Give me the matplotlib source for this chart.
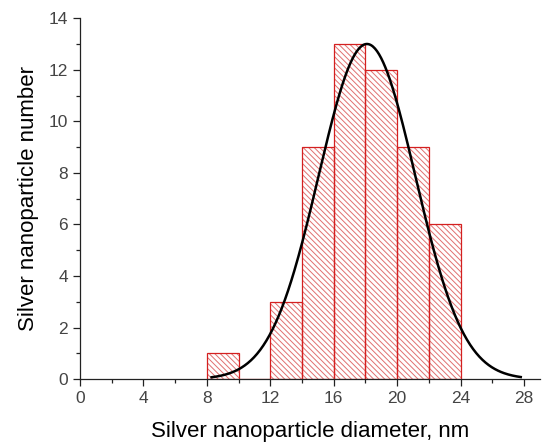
import numpy as np
import matplotlib.pyplot as plt
from matplotlib.ticker import MultipleLocator

plt.rcParams['font.family'] = ['Liberation Sans', 'DejaVu Sans']
plt.rcParams['hatch.linewidth'] = 0.7

# histogram data (bin left edges, counts)
bin_left = [8, 10, 12, 14, 16, 18, 20, 22]
counts = [1, 0, 3, 9, 13, 12, 9, 6]
bin_width = 2

# gaussian fit parameters
fit_center = 18.1
fit_sigma = 3.05
fit_amp = 13.0
fit_range = (8.3, 27.8)

fig = plt.figure(figsize=(5.48, 4.44), dpi=100)
ax = fig.add_axes([0.146, 0.146, 0.839, 0.813])

# hatch in a lighter red, outline drawn separately
ax.bar(bin_left, counts, width=bin_width, align='edge', facecolor='white',
       edgecolor='#e07070', linewidth=0, hatch='\\' * 6, zorder=2)
ax.bar(bin_left, counts, width=bin_width, align='edge', fill=False,
       edgecolor='#d42020', linewidth=0.9, zorder=2)

xs = np.linspace(fit_range[0], fit_range[1], 300)
ys = fit_amp * np.exp(-(xs - fit_center) ** 2 / (2 * fit_sigma ** 2))
ax.plot(xs, ys, color='black', linewidth=1.8, zorder=3)

ax.set_xlim(0, 29)
ax.set_ylim(0, 14)
ax.xaxis.set_major_locator(MultipleLocator(4))
ax.xaxis.set_minor_locator(MultipleLocator(2))
ax.yaxis.set_major_locator(MultipleLocator(2))
ax.yaxis.set_minor_locator(MultipleLocator(1))

for s in ['top', 'right']:
    ax.spines[s].set_visible(False)
for s in ['left', 'bottom']:
    ax.spines[s].set_linewidth(0.9)
    ax.spines[s].set_color('#222222')

ax.tick_params(which='major', direction='out', length=5, width=0.9,
               labelsize=12.5, labelcolor='#444444', color='#222222')
ax.tick_params(which='minor', direction='out', length=3, width=0.9, color='#222222')

ax.set_xlabel('Silver nanoparticle diameter, nm', fontsize=16, labelpad=11)
ax.set_ylabel('Silver nanoparticle number', fontsize=16, labelpad=7)

fig.savefig('out.png', dpi=100)
